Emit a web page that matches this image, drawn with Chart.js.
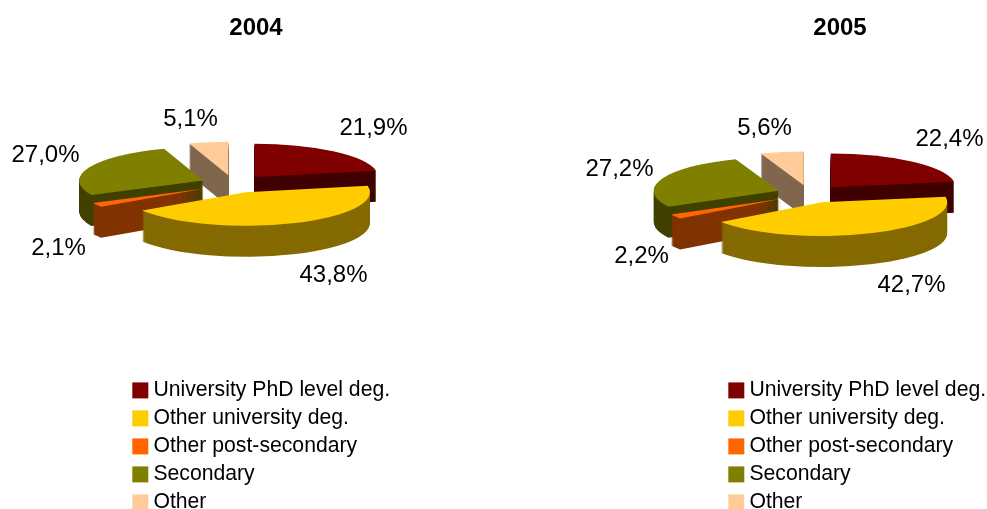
<!DOCTYPE html>
<html>
<head>
<meta charset="utf-8">
<title>2004 / 2005</title>
<script src="https://cdn.jsdelivr.net/npm/chart.js@4"></script>
<style>
    body { margin: 0; background: #fff; overflow: hidden; }
    canvas { position: absolute; top: 0; }
</style>
</head>
<body>
<canvas id="chart2004" width="520" height="509" style="left:0"></canvas>
<canvas id="chart2005" width="467" height="509" style="left:520px"></canvas>
<script>
// Data
var categories = ["University PhD level deg.", "Other university deg.", "Other post-secondary", "Secondary", "Other"];
var values2004 = [21.9, 43.8, 2.1, 27.0, 5.1];
var values2005 = [22.4, 42.7, 2.2, 27.2, 5.6];

// Colours
var topColors = ["#800000", "#FFCC00", "#FF6600", "#808000", "#FFCC99"];
var sideColors = ["#400000", "#856A00", "#803300", "#404000", "#80664D"];

// Fake 3D settings
var squash = 0.27;
var depth = 31;
var explode = 33;
var drawOrder = [4, 0, 3, 2, 1]; // back slices first

Chart.defaults.font.family = '"Liberation Sans", Arial, sans-serif';
Chart.defaults.color = "#000";

// draws one slice in the squashed plane, shifted down by "drop" pixels
function drawSlice(ctx, arc, cx, cy, drop, color) {
    var mid = (arc.startAngle + arc.endAngle) / 2;
    var realOptions = arc.options;
    arc.options = Object.assign({}, realOptions, { backgroundColor: color });
    ctx.save();
    ctx.translate(cx, cy + drop);
    ctx.scale(1, squash);
    ctx.translate(Math.cos(mid) * explode - arc.x, Math.sin(mid) * explode - arc.y);
    arc.draw(ctx);
    ctx.restore();
    arc.options = realOptions;
}

var pie3d = {
    id: "pie3d",
    afterLayout: function (chart, args, opts) {
        // title and legend sit at fixed places, like in the original slide
        var title = chart.titleBlock;
        var w = title.right - title.left;
        title.left = opts.titleX - w / 2;
        title.right = opts.titleX + w / 2;
        var legend = chart.legend;
        legend.left = opts.legendX;
        legend.right = chart.width;
        legend.top = opts.legendY;
        legend.bottom = chart.height + 20;
    },
    beforeDatasetsDraw: function (chart, args, opts) {
        var ctx = chart.ctx;
        var arcs = chart.getDatasetMeta(0).data;
        drawOrder.forEach(function (i) {
            for (var d = depth; d > 0; d--) {
                drawSlice(ctx, arcs[i], opts.cx, opts.cy, d, sideColors[i]);
            }
            drawSlice(ctx, arcs[i], opts.cx, opts.cy, 0, topColors[i]);
        });
        // value labels
        var data = chart.data.datasets[0].data;
        ctx.save();
        ctx.font = '24px "Liberation Sans", Arial, sans-serif';
        ctx.fillStyle = "#000";
        ctx.textAlign = "center";
        ctx.textBaseline = "middle";
        data.forEach(function (v, i) {
            var text = v.toFixed(1).replace(".", ",") + "%";
            ctx.fillText(text, opts.cx + opts.labelOffsets[i][0], opts.cy + opts.labelOffsets[i][1]);
        });
        ctx.restore();
        return false;
    }
};

function makeChart(id, year, values, radius, layout) {
    return new Chart(document.getElementById(id), {
        type: "pie",
        data: {
            labels: categories,
            datasets: [{ data: values, backgroundColor: topColors, borderWidth: 0, radius: radius }]
        },
        options: {
            responsive: false,
            animation: false,
            events: [],
            plugins: {
                title: {
                    display: true,
                    text: year,
                    font: { size: 24, weight: "bold" },
                    padding: { top: 14, bottom: 10 }
                },
                legend: {
                    position: "left",
                    align: "start",
                    labels: {
                        font: { size: 21.2 },
                        // small box + thick border gives a 16px square closer to the text
                        boxWidth: 5,
                        boxHeight: 5,
                        padding: 6.8,
                        generateLabels: function (chart) {
                            var items = Chart.overrides.doughnut.plugins.legend.labels.generateLabels(chart);
                            return items.map(function (item) {
                                item.strokeStyle = item.fillStyle;
                                item.lineWidth = 11;
                                return item;
                            });
                        }
                    }
                },
                tooltip: { enabled: false },
                pie3d: layout
            }
        },
        plugins: [pie3d]
    });
}

makeChart("chart2004", "2004", values2004, 124, {
    cx: 233.5, cy: 184, titleX: 256, legendX: 131, legendY: 373,
    labelOffsets: [[140, -56], [100, 91], [-175, 64], [-188, -29], [-43, -65]]
});

makeChart("chart2005", "2005", values2005, 125, {
    cx: 289.5, cy: 194, titleX: 320, legendX: 207, legendY: 373,
    labelOffsets: [[140, -55], [102, 91], [-168, 62], [-190, -25], [-45, -66]]
});
</script>
</body>
</html>
